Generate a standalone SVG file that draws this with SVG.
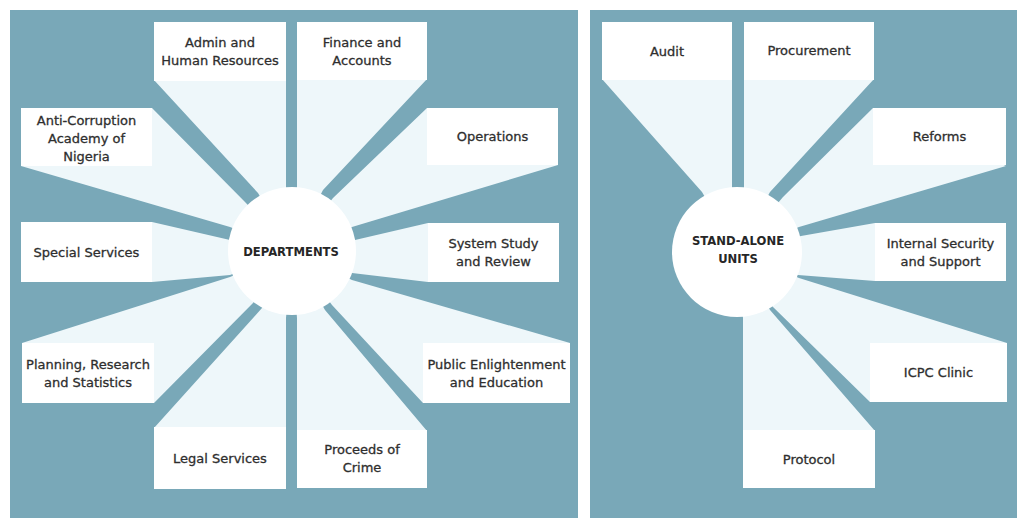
<svg xmlns="http://www.w3.org/2000/svg" width="1017" height="520" viewBox="0 0 1017 520">
<style>
.panel{fill:#79a8b8}
.fan{fill:#eef7fa}
.box{fill:#ffffff}
.hub{fill:#ffffff}
.lbl{font-family:"DejaVu Sans","Liberation Sans",sans-serif;font-size:13px;fill:#2e2e2e;stroke:#2e2e2e;stroke-width:0.3;text-anchor:middle}
.hubl{font-family:"DejaVu Sans","Liberation Sans",sans-serif;font-size:11.6px;font-weight:bold;fill:#262626;text-anchor:middle}
</style>
<rect width="1017" height="520" fill="#ffffff"/>
<rect class="panel" x="10" y="10" width="568" height="508"/>
<rect class="panel" x="590" y="10" width="427" height="508"/>
<g id="connectors">
<polygon class="fan" points="154,80 286,80 286,190 292,251 258,193"/>
<polygon class="fan" points="297,79 427,79 323,190 292,251 297,190"/>
<polygon class="fan" points="333,198 427,108 558,165 352,227 292,251"/>
<polygon class="fan" points="355,240 428,223 428,282 352,273 292,251"/>
<polygon class="fan" points="352,280 570,343 423,403 332,305 292,251"/>
<polygon class="fan" points="297,318 297,431 427,431 325,310 292,251"/>
<polygon class="fan" points="262,308 154,428 286,428 286,318 292,251"/>
<polygon class="fan" points="230,277 22,343 154,403 253,303 292,251"/>
<polygon class="fan" points="230,240 152,222 152,282 230,275 292,251"/>
<polygon class="fan" points="245,202 152,108 21,166 230,227 292,251"/>
<polygon class="fan" points="602,79 732,79 732,190 737,252 702,192"/>
<polygon class="fan" points="744,79 874,79 770,192 737,252 744,190"/>
<polygon class="fan" points="783,197 873,108 1006,166 799,227 737,252"/>
<polygon class="fan" points="801,236 875,223 875,281 798,275 737,252"/>
<polygon class="fan" points="799,278 1007,343 870,402 773,307 737,252"/>
<polygon class="fan" points="743,318 743,431 875,431 770,310 737,252"/>
</g>
<g id="departments">
<circle class="hub" cx="292" cy="251" r="64"/>
<text class="hubl" x="291" y="255.5">DEPARTMENTS</text>
</g>
<g id="stand-alone-units">
<circle class="hub" cx="737" cy="252" r="65"/>
<text class="hubl" x="738" y="244.5">STAND-ALONE</text>
<text class="hubl" x="738" y="262.5">UNITS</text>
</g>
<g id="admin">
<rect class="box" x="154" y="22" width="132" height="59"/>
<text class="lbl" x="220" y="46.5">Admin and</text>
<text class="lbl" x="220" y="64.5">Human Resources</text>
</g>
<g id="finance">
<rect class="box" x="297" y="22" width="130" height="58"/>
<text class="lbl" x="362" y="46.5">Finance and</text>
<text class="lbl" x="362" y="64.5">Accounts</text>
</g>
<g id="anti-corruption">
<rect class="box" x="21" y="108" width="131" height="58"/>
<text class="lbl" x="86.5" y="124.5">Anti-Corruption</text>
<text class="lbl" x="86.5" y="142.5">Academy of</text>
<text class="lbl" x="86.5" y="160.5">Nigeria</text>
</g>
<g id="operations">
<rect class="box" x="427" y="108" width="131" height="57"/>
<text class="lbl" x="492.5" y="141">Operations</text>
</g>
<g id="special-services">
<rect class="box" x="21" y="222" width="131" height="60"/>
<text class="lbl" x="86.5" y="256.5">Special Services</text>
</g>
<g id="system-study">
<rect class="box" x="428" y="223" width="131" height="59"/>
<text class="lbl" x="493.5" y="248">System Study</text>
<text class="lbl" x="493.5" y="266">and Review</text>
</g>
<g id="planning">
<rect class="box" x="22" y="343" width="132" height="60"/>
<text class="lbl" x="88" y="368.5">Planning, Research</text>
<text class="lbl" x="88" y="386.5">and Statistics</text>
</g>
<g id="public-enlightenment">
<rect class="box" x="423" y="343" width="147" height="60"/>
<text class="lbl" x="496.5" y="368.5">Public Enlightenment</text>
<text class="lbl" x="496.5" y="386.5">and Education</text>
</g>
<g id="legal-services">
<rect class="box" x="154" y="427" width="132" height="62"/>
<text class="lbl" x="220" y="462.5">Legal Services</text>
</g>
<g id="proceeds-of-crime">
<rect class="box" x="297" y="430" width="130" height="58"/>
<text class="lbl" x="362" y="454">Proceeds of</text>
<text class="lbl" x="362" y="472">Crime</text>
</g>
<g id="audit">
<rect class="box" x="602" y="22" width="130" height="58"/>
<text class="lbl" x="667" y="56">Audit</text>
</g>
<g id="procurement">
<rect class="box" x="744" y="22" width="130" height="58"/>
<text class="lbl" x="809" y="55">Procurement</text>
</g>
<g id="reforms">
<rect class="box" x="873" y="108" width="133" height="57"/>
<text class="lbl" x="939.5" y="141">Reforms</text>
</g>
<g id="internal-security">
<rect class="box" x="875" y="223" width="131" height="58"/>
<text class="lbl" x="940.5" y="247.5">Internal Security</text>
<text class="lbl" x="940.5" y="265.5">and Support</text>
</g>
<g id="icpc-clinic">
<rect class="box" x="870" y="343" width="137" height="59"/>
<text class="lbl" x="938.5" y="377">ICPC Clinic</text>
</g>
<g id="protocol">
<rect class="box" x="743" y="430" width="132" height="58"/>
<text class="lbl" x="809" y="463.5">Protocol</text>
</g>
</svg>
